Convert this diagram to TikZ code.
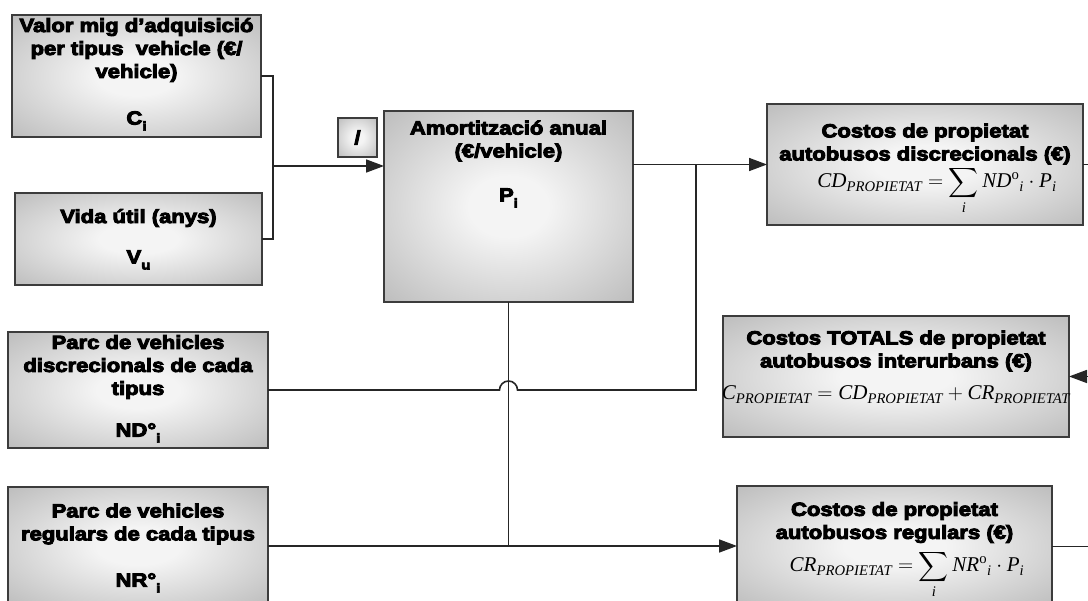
\RequirePackage{fix-cm}
\documentclass[tikz,border=0pt]{standalone}
\usepackage{amsmath}
\usepackage{fontspec}
\usetikzlibrary{arrows.meta,calc}

% heavy, slightly wide sans for the box titles
\newfontfamily\boxfont{Liberation Sans}[UprightFont={* Bold},FakeStretch=1.16,FakeBold=5]
% serif italic for the formulas
\newfontfamily\tnr{Liberation Serif}
\newcommand\mv[1]{\text{\tnr\itshape #1}}
\newcommand\msub[1]{\raisebox{-0.32em}{\fontsize{13}{13}\selectfont #1}}

\definecolor{boxedge}{HTML}{3C3C3C}
\definecolor{glowin}{HTML}{F4F4F4}
\definecolor{glowout}{HTML}{A4A4A4}
\pgfdeclareradialshading{boxglow}{\pgfpoint{0bp}{0bp}}{%
  color(0bp)=(glowin); color(8bp)=(glowin); color(48bp)=(glowout); color(75bp)=(glowout)}

\tikzset{
  box/.style={draw=boxedge, line width=1.2pt, shading=boxglow, inner sep=0pt, outer sep=0pt},
  txt/.style={font={\boxfont\fontsize{19}{23}\selectfont}, align=center, inner sep=0pt},
  frm/.style={font={\fontsize{21}{25}\selectfont}, inner sep=0pt, anchor=base},
  conn/.style={line width=1.6pt, draw=black!85},
  flow/.style={conn, -{Triangle[length=18pt,width=13pt]}},
}

\begin{document}
\begin{tikzpicture}[x=1pt, y=-1pt]
\useasboundingbox (0,0) rectangle (1088,601);
\clip (0,0) rectangle (1088,601);

% ---- boxes ----
\node[box, minimum width=249pt, minimum height=122pt] (cbox) at (136.5,76) {};
\node[box, minimum width=247pt, minimum height=92pt]  (vbox) at (138.5,239) {};
\node[box, minimum width=39pt,  minimum height=39pt]  (sbox) at (357.5,137.5) {};
\node[box, minimum width=249pt, minimum height=191pt] (amort) at (508.5,206.5) {};
\node[box, minimum width=316pt, minimum height=121pt] (cd) at (925,164.5) {};
\node[box, minimum width=346pt, minimum height=121pt] (total) at (896,376.5) {};
\node[box, minimum width=260pt, minimum height=116pt] (nd) at (138,390) {};
\node[box, minimum width=260pt, minimum height=118pt] (nr) at (138,546) {};
\node[box, minimum width=315pt, minimum height=121pt] (cr) at (894.5,546.5) {};

% ---- box texts ----
\node[txt] (ctext) at (136.5,50) {Valor mig d’adquisició\\per tipus\ \ vehicle (€/\\vehicle)};
\node[txt] (cvar) at (136.5,121) {C\msub{i}};
\node[txt] (vtext) at (138.5,218) {Vida útil (anys)};
\node[txt] (vvar) at (138.5,260) {V\msub{u}};
\node[txt] (stext) at (357.5,137.5) {/};
\node[txt] (atext) at (508.5,141) {Amortització anual\\(€/vehicle)};
\node[txt] (avar) at (508.5,198) {P\msub{i}};
\node[txt] (cdtext) at (925,144) {Costos de propietat\\autobusos discrecionals (€)};
\node[frm] (cdform) at (937,188) {$\displaystyle\mv{CD}_{\mv{PROPIETAT}}=\sum_{\mv{i}}\mv{ND}^{\text{\tnr o}}{}_{\mv{i}}\cdot\mv{P}_{\mv{i}}$};
\node[txt] (ttext) at (896,351) {Costos TOTALS de propietat\\autobusos interurbans (€)};
\node[frm] (tform) at (896,400) {$\mv{C}_{\mv{PROPIETAT}}=\mv{CD}_{\mv{PROPIETAT}}+\mv{CR}_{\mv{PROPIETAT}}$};
\node[txt] (ndtext) at (138,367) {Parc de vehicles\\discrecionals de cada\\tipus};
\node[txt] (ndvar) at (138,433) {ND°\msub{i}};
\node[txt] (nrtext) at (138,524) {Parc de vehicles\\regulars de cada tipus};
\node[txt] (nrvar) at (138,583) {NR°\msub{i}};
\node[txt] (crtext) at (894.5,522.5) {Costos de propietat\\autobusos regulars (€)};
\node[frm] (crform) at (907,572) {$\displaystyle\mv{CR}_{\mv{PROPIETAT}}=\sum_{\mv{i}}\mv{NR}^{\text{\tnr o}}{}_{\mv{i}}\cdot\mv{P}_{\mv{i}}$};

% ---- junction points ----
\coordinate (mergeA) at (273,166);
\coordinate (mergeB) at (696,164.5);
\coordinate (rim) at (1088,0);

% ---- connectors ----
\draw[conn] (cbox.east) -| (mergeA) |- (vbox.east);
\draw[flow] (mergeA) -- (mergeA -| amort.west);
\draw[flow] (amort.east |- cd.west) -- (cd.west);
\draw[conn] (nd.east) -- ([xshift=-9pt]nd.east -| amort.south)
  arc[start angle=180, end angle=0, radius=9pt] -- (mergeB |- nd.east) -- (mergeB);
\draw[conn] (amort.south) -- (amort.south |- nr.east);
\draw[flow] (nr.east) -- (nr.east -| cr.west);
\draw[conn] (cd.east) -- (cd.east -| rim);
\draw[flow] (total.east -| rim) -- (total.east);
\draw[conn] (cr.east) -- (cr.east -| rim);
\end{tikzpicture}
\end{document}
